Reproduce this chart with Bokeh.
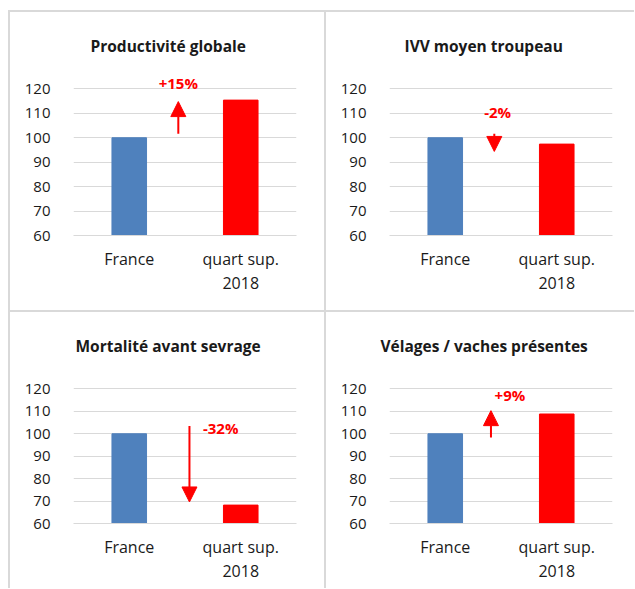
from bokeh.plotting import figure
from bokeh.models import (FactorRange, Range1d, FixedTicker, Label, Arrow,
                          NormalHead, Spacer, ColumnDataSource)
from bokeh.layouts import row, column
from bokeh.embed import file_html
from bokeh.resources import INLINE

# ---- data ----
categories = ["France", "quart sup.\n2018"]
titles = ["Productivité globale", "IVV moyen troupeau",
          "Mortalité avant sevrage", "Vélages / vaches présentes"]
france_values = [100, 100, 100, 100]
quart_values = [115.4, 97.4, 68.2, 108.8]
change_labels = ["+15%", "-2%", "-32%", "+9%"]
y_ticks = [60, 70, 80, 90, 100, 110, 120]

# annotation positions (x in category units, y in data units)
arrow_x = [0.94, 0.94, 1.04, 0.91]
arrow_from = [101.6, 101.6, 103.5, 98.3]
arrow_to = [114.8, 94.4, 69.6, 110.3]
label_x = [0.94, 0.97, 1.32, 1.08]
label_y = [122.3, 110.7, 102.5, 117.4]

# layout: horizontal title offsets (px from the plot-area left edge)
title_offsets = [17, 15, 2, -9]

FONT = "Open Sans"
GRID = "#d9d9d9"
BLUE = "#4f81bd"
RED = "#ff0000"
TEXT = "#1a1a1a"


def make_panel(i, width, height, border_right, border_bottom, y_top):
    p = figure(x_range=FactorRange(factors=categories), y_range=Range1d(60, y_top),
               width=width, height=height, output_backend="svg",
               toolbar_location=None, tools="",
               min_border_left=63, min_border_right=border_right,
               min_border_top=60, min_border_bottom=border_bottom,
               title=titles[i])
    p.outline_line_color = None
    p.background_fill_color = "white"
    p.border_fill_color = "white"

    p.title.text_font = FONT
    p.title.text_font_style = "bold"
    p.title.text_font_size = "15.5px"
    p.title.text_color = TEXT
    p.title.align = "left"
    p.title.offset = title_offsets[i]
    p.title.standoff = 31

    src = ColumnDataSource(dict(cat=categories,
                                val=[france_values[i], quart_values[i]],
                                color=[BLUE, RED]))
    p.vbar(x="cat", top="val", bottom=60, width=0.31, color="color", source=src)

    p.xgrid.grid_line_color = None
    p.ygrid.grid_line_color = GRID
    p.ygrid.grid_line_width = 1
    p.yaxis.ticker = FixedTicker(ticks=y_ticks)
    p.ygrid.ticker = FixedTicker(ticks=y_ticks)
    p.yaxis.axis_line_color = None
    p.yaxis.major_tick_line_color = None
    p.yaxis.minor_tick_line_color = None
    p.yaxis.major_label_standoff = 17
    p.yaxis.major_label_text_font_size = "15px"
    p.xaxis.axis_line_color = GRID
    p.xaxis.axis_line_width = 1
    p.xaxis.major_tick_line_color = None
    p.xaxis.major_label_standoff = 6
    p.xaxis.major_label_text_line_height = 1.1
    p.xaxis.major_label_text_font_size = "16px"
    for ax in (p.xaxis, p.yaxis):
        ax.major_label_text_font = FONT
        ax.major_label_text_color = TEXT

    p.add_layout(Arrow(end=NormalHead(size=15, fill_color=RED, line_color=RED),
                       x_start=arrow_x[i], y_start=arrow_from[i],
                       x_end=arrow_x[i], y_end=arrow_to[i],
                       line_color=RED, line_width=2))
    p.add_layout(Label(x=label_x[i], y=label_y[i], text=change_labels[i],
                       text_font=FONT, text_font_style="bold",
                       text_font_size="15px", text_color=RED,
                       text_align="center", text_baseline="middle"))
    return p


# frame tops sit 16 px above the 120 gridline so the percentage labels fit
p1 = make_panel(0, 314, 298, 28, 75, 126.7)
p2 = make_panel(1, 308, 298, 22, 75, 126.7)
p3 = make_panel(2, 314, 276, 28, 65, 127.3)
p4 = make_panel(3, 308, 276, 22, 65, 127.3)


def vline(h):
    return Spacer(width=2, height=h, styles={"background-color": GRID})


def hline(w):
    return Spacer(width=w, height=2, styles={"background-color": GRID})


def pad(w, h):
    return Spacer(width=w, height=h)


layout = column(
    pad(634, 10),
    row(pad(8, 2), hline(626)),
    row(pad(8, 298), vline(298), p1, vline(298), p2),
    row(pad(8, 2), hline(626)),
    row(pad(8, 276), vline(276), p3, vline(276), p4),
)

open("out.html", "w").write(file_html(layout, INLINE))
